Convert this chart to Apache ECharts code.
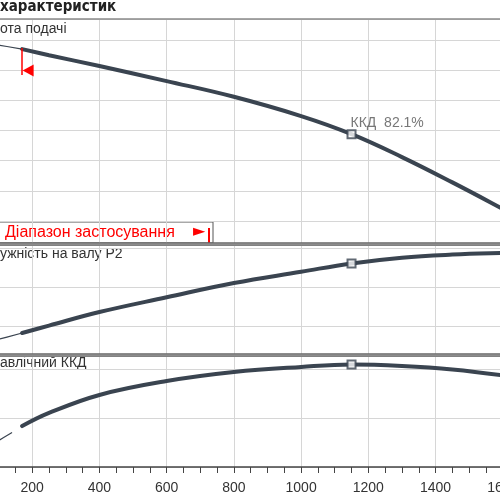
<!DOCTYPE html>
<html>
<head>
<meta charset="utf-8">
<script src="https://cdn.jsdelivr.net/npm/echarts@6/dist/echarts.min.js"></script>
<style>
  html, body { margin: 0; padding: 0; background: #fff; }
  #chart { width: 500px; height: 500px; }
</style>
</head>
<body>
<div id="chart"></div>
<script>
// подача Q (робочий діапазон)
const flowPoints = [170, 250, 400, 600, 800, 1000, 1150, 1300, 1450, 1600, 1700]
const headValues = [67.0, 65.0, 61.4, 56.4, 51.2, 44.8, 38.8, 31.2, 22.8, 14.0, 8.0]
const powerValues = [41.0, 50.5, 67.9, 86.8, 105.1, 119.5, 130.2, 137.6, 141.5, 143.6, 144.5]
const effValues = [56.8, 62.2, 69.6, 75.3, 79.0, 81.1, 82.1, 81.5, 80.1, 77.6, 75.2]

// тонкі ділянки поза діапазоном
const thinFlow = [0, 103, 170]
const headThin = [70.3, 68.3, 67.0]
const powerThin = [21.4, 33.3, 41.0]
const effThinFlow = [0, 103, 140]
const effThin = [42.3, 51.1, 54.2]

const xTicks = [0, 1800, 200]
const minFlow = 170
const bepFlow = 1150
const bepEff = 82.1

const lineColor = '#3a4450'
const gridColor = '#d6d6d6'

function zip(xs, ys) {
  return xs.map((x, i) => [x, ys[i]])
}
const bi = flowPoints.indexOf(bepFlow)

const chart = echarts.init(document.getElementById('chart'))

function bottomAxis(grid, withLabels) {
  return {
    type: 'value',
    gridIndex: grid,
    position: 'bottom',
    min: xTicks[0],
    max: xTicks[1],
    interval: xTicks[2],
    axisLine: { show: true, lineStyle: { color: withLabels ? '#444' : '#666', width: 1.5 } },
    axisTick: { show: withLabels, length: 6, lineStyle: { color: '#444' } },
    minorTick: { show: withLabels, splitNumber: 4, length: 6, lineStyle: { color: '#444' } },
    axisLabel: {
      show: withLabels,
      margin: 14,
      fontSize: 14,
      color: '#333',
      fontFamily: 'Liberation Sans',
      formatter: v => (v === 0 ? '' : String(v))
    },
    splitLine: { show: true, lineStyle: { color: gridColor, width: 1 } }
  }
}

function topAxis(grid, color) {
  return {
    type: 'value',
    gridIndex: grid,
    position: 'top',
    min: xTicks[0],
    max: xTicks[1],
    interval: xTicks[2],
    axisLine: { show: true, lineStyle: { color: color, width: 1.5 } },
    axisTick: { show: false },
    axisLabel: { show: false },
    splitLine: { show: false }
  }
}

function yAxis(grid, extra) {
  return Object.assign({
    type: 'value',
    gridIndex: grid,
    axisLine: { show: false },
    axisTick: { show: false },
    axisLabel: { show: false },
    splitLine: { show: true, lineStyle: { color: gridColor, width: 1 } }
  }, extra)
}

function thinSeries(xi, yi, data) {
  return {
    type: 'line',
    xAxisIndex: xi,
    yAxisIndex: yi,
    data: data,
    smooth: 0.4,
    showSymbol: false,
    silent: true,
    lineStyle: { color: lineColor, width: 1.2 }
  }
}

function thickSeries(xi, yi, data, extra) {
  return Object.assign({
    type: 'line',
    xAxisIndex: xi,
    yAxisIndex: yi,
    data: data,
    smooth: 0.4,
    showSymbol: false,
    silent: true,
    lineStyle: { color: lineColor, width: 4, cap: 'round' }
  }, extra)
}

function bepSeries(xi, yi, value, label) {
  return {
    type: 'scatter',
    xAxisIndex: xi,
    yAxisIndex: yi,
    z: 5,
    symbol: 'rect',
    symbolSize: 8,
    itemStyle: { color: '#fff', borderColor: lineColor, borderWidth: 2 },
    label: label || { show: false },
    data: [[bepFlow, value]]
  }
}

const gridBase = { left: -35, right: -70, outerBoundsMode: 'none', containLabel: false }

const options = {
  animation: false,
  grid: [
    Object.assign({ top: 19, height: 224 }, gridBase),
    Object.assign({ top: 245, height: 109 }, gridBase),
    Object.assign({ top: 356, height: 111 }, gridBase)
  ],
  xAxis: [
    bottomAxis(0, false), topAxis(0, '#8a8a8a'),
    bottomAxis(1, false), topAxis(1, '#666'),
    bottomAxis(2, true), topAxis(2, '#666')
  ],
  yAxis: [
    yAxis(0, { min: 2.7, max: 77, splitNumber: 7 }),
    yAxis(1, { min: 14.1, max: 153.8, splitNumber: 3 }),
    yAxis(2, { min: 40, max: 85.6, interval: 20 })
  ],
  series: [
    thinSeries(0, 0, zip(thinFlow, headThin)),
    thickSeries(0, 0, zip(flowPoints, headValues), {
      markLine: {
        silent: true,
        symbol: 'none',
        label: { show: false },
        lineStyle: { color: '#ff0000', width: 1.5, type: 'solid' },
        data: [[{ coord: [minFlow, 67.35] }, { coord: [minFlow, 58.4] }]]
      },
      markPoint: {
        silent: true,
        symbol: 'triangle',
        symbolSize: [12, 11],
        symbolRotate: 90,
        symbolOffset: [6, 0],
        label: { show: false },
        itemStyle: { color: '#ff0000' },
        data: [{ coord: [minFlow, 59.9] }]
      }
    }),
    bepSeries(0, 0, headValues[bi], {
      show: true,
      position: [4, -13],
      formatter: 'ККД  ' + bepEff.toFixed(1) + '%',
      fontSize: 14,
      color: '#555',
      fontFamily: 'Liberation Sans'
    }),
    thinSeries(2, 1, zip(thinFlow, powerThin)),
    thickSeries(2, 1, zip(flowPoints, powerValues)),
    bepSeries(2, 1, powerValues[bi]),
    thinSeries(4, 2, zip(effThinFlow, effThin)),
    thickSeries(4, 2, zip(flowPoints, effValues)),
    bepSeries(4, 2, effValues[bi])
  ],
  graphic: [
    {
      type: 'text', left: 0, top: 0,
      style: { text: 'характеристик', font: 'bold 15px "DejaVu Sans Condensed", "DejaVu Sans"', fill: '#222' }
    },
    {
      type: 'text', left: 0, top: 22,
      style: { text: 'ота подачі', font: '14px "Liberation Sans"', fill: '#333' }
    },
    {
      type: 'text', left: 0, top: 247,
      style: { text: 'ужність на валу P2', font: '14px "Liberation Sans"', fill: '#333' }
    },
    {
      type: 'text', left: 0, top: 356,
      style: { text: 'авлічний ККД', font: '14px "Liberation Sans"', fill: '#333' }
    },
    {
      type: 'group',
      z: 10,
      children: [
        {
          type: 'rect',
          shape: { x: -2, y: 222, width: 215, height: 21 },
          style: { fill: '#fff', stroke: '#555', lineWidth: 1 }
        },
        {
          type: 'text', x: 5, y: 233,
          style: { text: 'Діапазон застосування', font: '16px "Liberation Sans"', fill: '#ff0000', verticalAlign: 'middle' }
        },
        {
          type: 'text', x: 193, y: 232,
          style: { text: '►', font: '16px "DejaVu Sans"', fill: '#ff0000', verticalAlign: 'middle' }
        },
        {
          type: 'line',
          shape: { x1: 209, y1: 228, x2: 209, y2: 243 },
          style: { stroke: '#ff0000', lineWidth: 2 }
        }
      ]
    }
  ]
}

chart.setOption(options)
window.addEventListener('resize', function() {
  chart.resize()
})
</script>
</body>
</html>
